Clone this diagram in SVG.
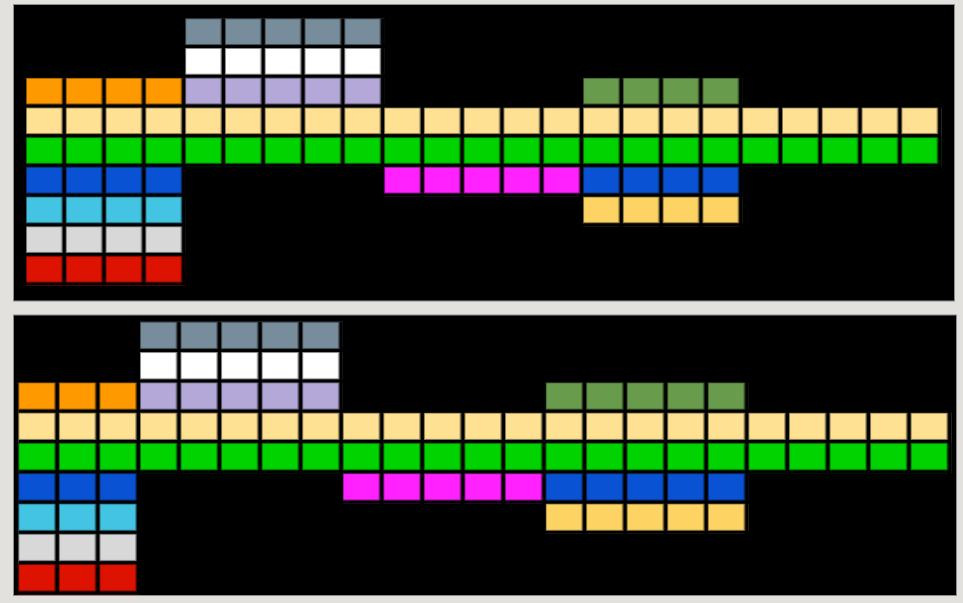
<svg xmlns="http://www.w3.org/2000/svg" width="963" height="603" viewBox="0 0 963 603">
<style>
.panel{fill:#000;stroke:#8c8c8c;stroke-width:1}
.gy{fill:#778d9b}.wh{fill:#ffffff}.or{fill:#ff9900}.lv{fill:#b3a8d8}
.tn{fill:#ffe194}.gr{fill:#00d300}.bl{fill:#0a52d4}.cy{fill:#43c4e2}
.lg{fill:#d8d8d8}.rd{fill:#de1200}.mg{fill:#ff22ff}.dg{fill:#689c4c}.ye{fill:#fdd464}
</style>
<defs>
<pattern id="gridTop" patternUnits="userSpaceOnUse" x="26" y="18.3" width="39.79" height="29.7">
<rect x="36.4" y="0" width="3.39" height="29.7" fill="#000"/>
<rect x="0" y="26.7" width="39.79" height="3" fill="#000"/>
<rect x="0.5" y="0.5" width="35.4" height="25.7" fill="none" stroke="#000" stroke-opacity="0.45" stroke-width="1"/>
</pattern>
<pattern id="gridBot" patternUnits="userSpaceOnUse" x="18.3" y="321.7" width="40.56" height="30.3">
<rect x="37" y="0" width="3.56" height="30.3" fill="#000"/>
<rect x="0" y="27.3" width="40.56" height="3" fill="#000"/>
<rect x="0.5" y="0.5" width="36" height="26.3" fill="none" stroke="#000" stroke-opacity="0.45" stroke-width="1"/>
</pattern>
</defs>
<rect width="963" height="603" fill="#e3e1de"/>

<g id="panel-top">
<rect class="panel" x="13.5" y="4.5" width="941" height="296.5"/>
<rect class="gy" x="185.16" y="18.3" width="198.95" height="29.7"/>
<rect class="wh" x="185.16" y="48" width="198.95" height="29.7"/>
<rect class="or" x="26" y="77.7" width="159.16" height="29.7"/>
<rect class="lv" x="185.16" y="77.7" width="198.95" height="29.7"/>
<rect class="dg" x="583.06" y="77.7" width="159.16" height="29.7"/>
<rect class="tn" x="26" y="107.4" width="915.17" height="29.7"/>
<rect class="gr" x="26" y="137.1" width="915.17" height="29.7"/>
<rect class="bl" x="26" y="166.8" width="159.16" height="29.7"/>
<rect class="mg" x="384.11" y="166.8" width="198.95" height="29.7"/>
<rect class="bl" x="583.06" y="166.8" width="159.16" height="29.7"/>
<rect class="cy" x="26" y="196.5" width="159.16" height="29.7"/>
<rect class="ye" x="583.06" y="196.5" width="159.16" height="29.7"/>
<rect class="lg" x="26" y="226.2" width="159.16" height="29.7"/>
<rect class="rd" x="26" y="255.9" width="159.16" height="29.7"/>
<rect x="26" y="18.3" width="915.17" height="267.3" fill="url(#gridTop)"/>
</g>

<g id="panel-bottom">
<rect class="panel" x="13.5" y="315" width="943" height="280.5"/>
<rect class="gy" x="139.98" y="321.7" width="202.8" height="30.3"/>
<rect class="wh" x="139.98" y="352" width="202.8" height="30.3"/>
<rect class="or" x="18.3" y="382.3" width="121.68" height="30.3"/>
<rect class="lv" x="139.98" y="382.3" width="202.8" height="30.3"/>
<rect class="dg" x="545.58" y="382.3" width="202.8" height="30.3"/>
<rect class="tn" x="18.3" y="412.6" width="932.88" height="30.3"/>
<rect class="gr" x="18.3" y="442.9" width="932.88" height="30.3"/>
<rect class="bl" x="18.3" y="473.2" width="121.68" height="30.3"/>
<rect class="mg" x="342.78" y="473.2" width="202.8" height="30.3"/>
<rect class="bl" x="545.58" y="473.2" width="202.8" height="30.3"/>
<rect class="cy" x="18.3" y="503.5" width="121.68" height="30.3"/>
<rect class="ye" x="545.58" y="503.5" width="202.8" height="30.3"/>
<rect class="lg" x="18.3" y="533.8" width="121.68" height="30.3"/>
<rect class="rd" x="18.3" y="564.1" width="121.68" height="30.3"/>
<rect x="18.3" y="321.7" width="932.88" height="272.7" fill="url(#gridBot)"/>
</g>
</svg>
